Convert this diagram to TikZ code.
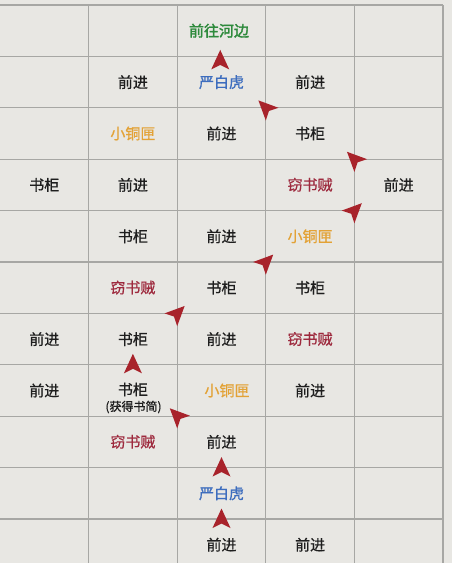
\documentclass[tikz,border=0pt]{standalone}
\usepackage{fontspec}
\setmainfont{Noto Sans CJK SC}
\newfontfamily\cjkw{Noto Sans CJK SC}[FakeBold=0.7]
\newfontfamily\cjkg{Noto Sans CJK SC}[FakeBold=2.2]
\usetikzlibrary{calc}
\definecolor{bgc}{HTML}{E8E7E3}
\definecolor{gridc}{HTML}{A7A7A4}
\definecolor{txtc}{HTML}{1E1E1E}
\definecolor{tigerc}{HTML}{3D6DBE}
\definecolor{boxc}{HTML}{E3A236}
\definecolor{thiefc}{HTML}{9E2A3E}
\definecolor{goalc}{HTML}{2E8A3C}
\definecolor{arrowc}{HTML}{A8232B}
\tikzset{
  cell/.style={font=\cjkw\fontsize{15}{18}\selectfont, text=txtc, inner sep=0pt},
  tigercell/.style={cell, text=tigerc},
  boxcell/.style={cell, text=boxc},
  thiefcell/.style={cell, text=thiefc},
  goalcell/.style={cell, text=goalc, font=\cjkg\fontsize{15}{18}\selectfont},
  notecell/.style={cell, font=\cjkw\fontsize{12}{14}\selectfont},
  gridline/.style={draw=gridc, line width=1.3pt},
  navarrow/.pic={\fill[arrowc] (10.5,0) -- (-9,9) -- (-4.5,0) -- (-9,-9) -- cycle;}
}
\begin{document}
\begin{tikzpicture}[x=1pt,y=1pt]
\useasboundingbox (0,0) rectangle (452,-563);
\fill[bgc] (0,0) rectangle (452,-563);
% grid
\foreach \k in {0,...,10} {
  \draw[gridline] (0,{-5-51.4*\k}) -- (443,{-5-51.4*\k});
}
\foreach \k in {1,...,5} {
  \draw[gridline] ({88.6*\k},-5) -- ({88.6*\k},-563);
}
% row 0
\node[goalcell] (r0c2) at (219,-30.7) {前往河边};
% row 1
\node[cell] (r1c1) at (132.9,-82.1) {前进};
\node[tigercell] (r1c2) at (221.5,-82.1) {严白虎};
\node[cell] (r1c3) at (310.1,-82.1) {前进};
% row 2
\node[boxcell] (r2c1) at (132.9,-133.5) {小铜匣};
\node[cell] (r2c2) at (221.5,-133.5) {前进};
\node[cell] (r2c3) at (310.1,-133.5) {书柜};
% row 3
\node[cell] (r3c0) at (44.3,-184.9) {书柜};
\node[cell] (r3c1) at (132.9,-184.9) {前进};
\node[thiefcell] (r3c3) at (310.1,-184.9) {窃书贼};
\node[cell] (r3c4) at (398.7,-184.9) {前进};
% row 4
\node[cell] (r4c1) at (132.9,-236.3) {书柜};
\node[cell] (r4c2) at (221.5,-236.3) {前进};
\node[boxcell] (r4c3) at (310.1,-236.3) {小铜匣};
% row 5
\node[thiefcell] (r5c1) at (132.9,-287.7) {窃书贼};
\node[cell] (r5c2) at (221.5,-287.7) {书柜};
\node[cell] (r5c3) at (310.1,-287.7) {书柜};
% row 6
\node[cell] (r6c0) at (44.3,-339.1) {前进};
\node[cell] (r6c1) at (132.9,-339.1) {书柜};
\node[cell] (r6c2) at (221.5,-339.1) {前进};
\node[thiefcell] (r6c3) at (310.1,-339.1) {窃书贼};
% row 7
\node[cell] (r7c0) at (44.3,-390.5) {前进};
\node[cell] (r7c1) at (132.9,-389.5) {书柜};
\node[notecell] (note) at (133.5,-407) {(获得书简)};
\node[boxcell] (r7c2) at (227,-390.5) {小铜匣};
\node[cell] (r7c3) at (310.1,-390.5) {前进};
% row 8
\node[thiefcell] (r8c1) at (132.9,-441.9) {窃书贼};
\node[cell] (r8c2) at (221.5,-441.9) {前进};
% row 9
\node[tigercell] (r9c2) at (221.5,-493.3) {严白虎};
% row 10
\node[cell] (r10c2) at (221.5,-544.7) {前进};
\node[cell] (r10c3) at (310.1,-544.7) {前进};
% route arrows
\pic[rotate=90]  at ($(r10c2)!0.5!(r9c2)$) {navarrow};
\pic[rotate=90]  at ($(r9c2)!0.5!(r8c2)$) {navarrow};
\pic[rotate=135] at ($(r8c2)!0.5!(r7c1)$) {navarrow};
\pic[rotate=90]  at ($(r7c1)!0.5!(r6c1)$) {navarrow};
\pic[rotate=45]  at ($(r6c1)!0.5!(r5c2)$) {navarrow};
\pic[rotate=45]  at ($(r5c2)!0.5!(r4c3)$) {navarrow};
\pic[rotate=45]  at ($(r4c3)!0.5!(r3c4)$) {navarrow};
\pic[rotate=135] at ($(r3c4)!0.5!(r2c3)$) {navarrow};
\pic[rotate=135] at ($(r2c3)!0.5!(r1c2)$) {navarrow};
\pic[rotate=90]  at ($(r1c2)!0.5!(r0c2)+(0,-4)$) {navarrow};
\end{tikzpicture}
\end{document}
